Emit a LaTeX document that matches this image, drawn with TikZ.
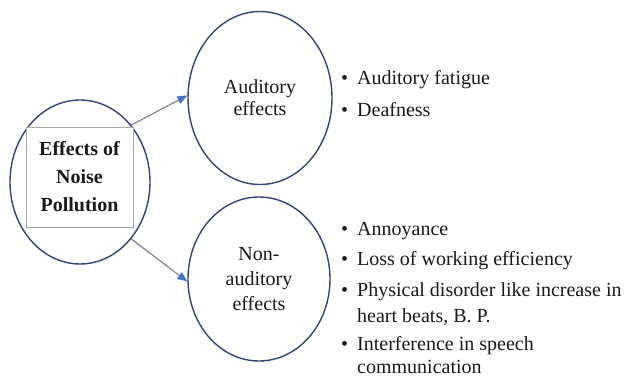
\documentclass[tikz,border=0pt]{standalone}
\usepackage{fontspec}
\setmainfont{Liberation Serif}
\usetikzlibrary{shapes.geometric,arrows.meta}
\definecolor{navy}{HTML}{34447A}
\definecolor{tipblue}{HTML}{4472C4}
\definecolor{linegray}{HTML}{7F7F7F}
\definecolor{boxgray}{HTML}{A6A6A6}
\definecolor{txt}{HTML}{1A1A1A}
\tikzset{
  oval/.style={ellipse, draw=navy, line width=1.4pt, fill=white, inner sep=0pt, align=center, text=txt},
  conn/.style={draw=linegray, line width=1.1pt, -{Triangle[length=10pt,width=8pt,color=tipblue]}},
  itemtext/.style={anchor=base west, inner sep=0pt, text=txt, font=\fontsize{20}{24}\selectfont},
}
\newcommand{\bul}{\makebox[16pt][l]{\textbullet}}
\begin{document}
\begin{tikzpicture}[x=1pt,y=-1pt]
\useasboundingbox (0,0) rectangle (626,377);
\fill[white] (0,0) rectangle (626,377);
% nodes
\node[oval, minimum width=140pt, minimum height=164pt] (L) at (80,182) {};
\node[draw=boxgray, line width=0.6pt, fill=white, minimum width=107pt, minimum height=100pt, inner sep=0pt, align=center, text=txt, font=\bfseries\fontsize{20}{28}\selectfont] (box) at (79.5,177) {Effects of\\Noise\\Pollution};
\node[oval, minimum width=144pt, minimum height=173pt, font=\fontsize{20}{22}\selectfont] (A) at (260,98) {Auditory\\effects};
\node[oval, minimum width=142pt, minimum height=164pt, font=\fontsize{20}{25}\selectfont] (B) at (259,279) {Non-\\auditory\\effects};
% connectors
\draw[conn] (L.48) -- (A.178);
\draw[conn] (L.-48) -- (B.182);
% lists
\node[itemtext] (a1) at (341,85) {\bul Auditory fatigue};
\node[itemtext] (a2) at (341,117) {\bul Deafness};
\node[itemtext] (b1) at (341,235) {\bul Annoyance};
\node[itemtext] (b2) at (341,265) {\bul Loss of working efficiency};
\node[itemtext] (b3) at (341,296) {\bul Physical disorder like increase in};
\node[itemtext] (b3b) at (357,322) {heart beats, B. P.};
\node[itemtext] (b4) at (341,350) {\bul Interference in speech};
\node[itemtext] (b4b) at (357,373) {communication};
\end{tikzpicture}
\end{document}
